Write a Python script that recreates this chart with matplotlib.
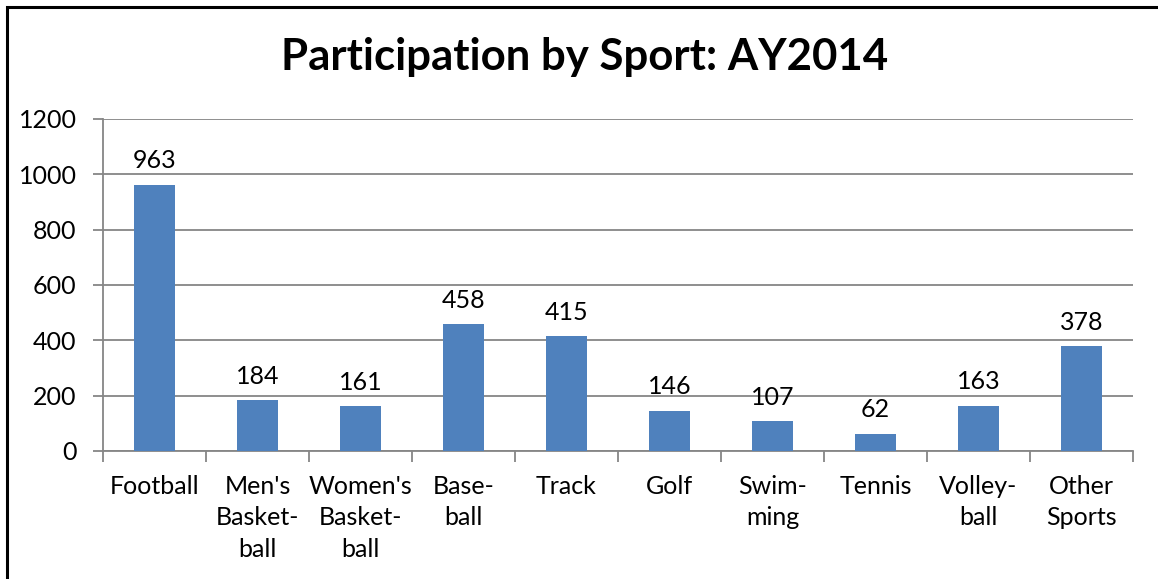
import matplotlib.pyplot as plt
from matplotlib.patches import Rectangle

sports = ["Football", "Men's\nBasket-\nball", "Women's\nBasket-\nball", "Base-\nball",
          "Track", "Golf", "Swim-\nming", "Tennis", "Volley-\nball", "Other\nSports"]
participants = [963, 184, 161, 458, 415, 146, 107, 62, 163, 378]
y_ticks = [0, 200, 400, 600, 800, 1000, 1200]

W, H = 1158, 579
fig = plt.figure(figsize=(W / 100, H / 100), dpi=100)
plt.rcParams['font.family'] = ['Lato', 'DejaVu Sans']

# outer chart border (runs off the right and bottom edges)
fig.patches.append(Rectangle((7 / W, -0.1), 2, 1.1 - 7 / H, transform=fig.transFigure,
                             fill=False, edgecolor='black', linewidth=2.2))

ax = fig.add_axes([103 / W, 1 - 451 / H, (1133 - 103) / W, (451 - 119) / H])
x = range(len(sports))
ax.bar(x, participants, width=0.4, color='#4F81BD', zorder=3)
for xi, v in zip(x, participants):
    ax.text(xi, v + 45, str(v), ha='center', va='bottom', fontsize=18)

ax.set_xlim(-0.5, len(sports) - 0.5)
ax.set_ylim(0, 1200)
ax.set_yticks(y_ticks)
ax.yaxis.grid(True, color='#868686', linewidth=1.3, zorder=0)
ax.tick_params(axis='y', labelsize=18, length=7, width=1.3, color='#868686', pad=12)

ax.set_xticks(x)
ax.set_xticklabels(sports, fontsize=18, linespacing=1.45)
ax.tick_params(axis='x', length=0, pad=17)
ax.set_xticks([i - 0.5 for i in range(len(sports) + 1)], minor=True)
ax.tick_params(axis='x', which='minor', length=8, width=1.3, color='#868686')

for s in ['top', 'right']:
    ax.spines[s].set_visible(False)
for s in ['left', 'bottom']:
    ax.spines[s].set_color('#868686')
    ax.spines[s].set_linewidth(1.3)

fig.text(585 / W, 1 - 57 / H, "Participation by Sport: AY2014", ha='center', va='center',
         fontsize=31.5, fontweight='bold')

fig.savefig("out.png", dpi=100)
